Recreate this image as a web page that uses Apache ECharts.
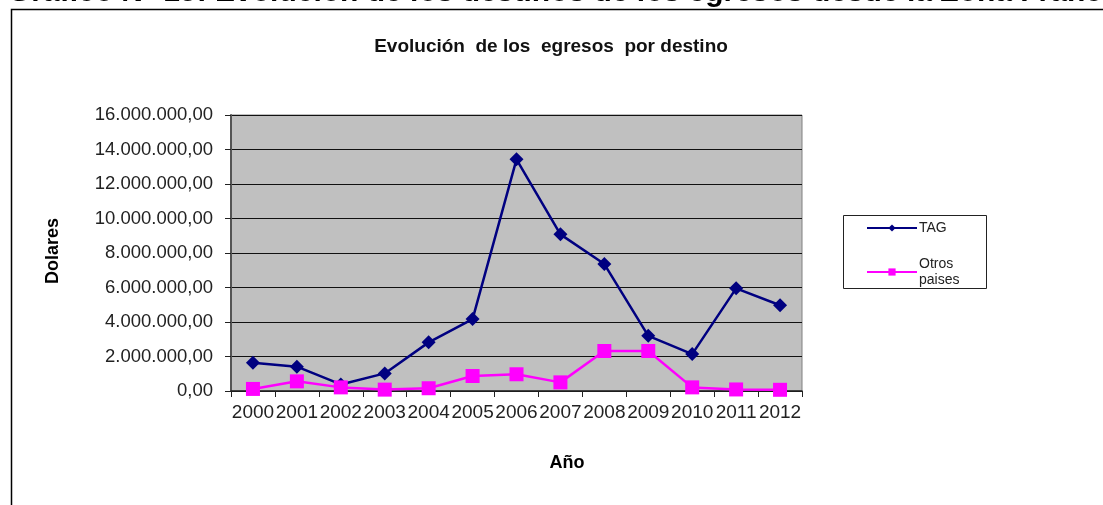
<!DOCTYPE html>
<html>
<head>
<meta charset="utf-8">
<script src="https://cdn.jsdelivr.net/npm/echarts@6/dist/echarts.min.js"></script>
<style>
  html, body { margin: 0; padding: 0; background: #fff; }
  #chart { width: 1103px; height: 505px; }
</style>
</head>
<body>
<div id="chart"></div>
<script>
// datos
var years = ['2000', '2001', '2002', '2003', '2004', '2005', '2006', '2007', '2008', '2009', '2010', '2011', '2012'];
var tag = [1640000, 1410000, 380000, 1020000, 2820000, 4170000, 13430000, 9080000, 7360000, 3200000, 2140000, 5950000, 4970000];
var otros = [120000, 560000, 210000, 80000, 160000, 870000, 970000, 500000, 2320000, 2320000, 210000, 90000, 70000];

function fmt(v) {
  var s = Math.round(v).toString().replace(/\B(?=(\d{3})+(?!\d))/g, '.');
  return s + ',00';
}

var font = '"Liberation Sans", Arial, sans-serif';
var myChart = echarts.init(document.getElementById('chart'));

var option = {
  animation: false,
  textStyle: { fontFamily: font },
  title: {
    text: 'Evolución  de los  egresos  por destino',
    left: 546,
    textAlign: 'center',
    top: 32,
    textStyle: { fontSize: 19, fontWeight: 'bold', color: '#111' }
  },
  graphic: [
    {
      type: 'text',
      x: 8,
      y: -7,
      style: {
        text: 'Gráfico N° 19: Evolución de los destinos de los egresos desde la Zona Franca',
        font: 'bold 30px ' + font,
        fill: '#000',
        verticalAlign: 'middle'
      }
    },
    {
      type: 'polyline',
      shape: { points: [[11.5, 505], [11.5, 9.5], [1103, 9.5]] },
      style: { stroke: '#000', lineWidth: 1.5, fill: null }
    },
    {
      type: 'rect',
      shape: { x: 843.5, y: 215.5, width: 143, height: 73 },
      style: { stroke: '#222', lineWidth: 1, fill: '#fff' }
    },
    {
      type: 'text',
      x: 53,
      y: 251,
      rotation: Math.PI / 2,
      style: {
        text: 'Dolares',
        font: 'bold 18px ' + font,
        fill: '#000',
        align: 'center',
        verticalAlign: 'middle'
      }
    },
    {
      type: 'text',
      x: 567,
      y: 463,
      style: {
        text: 'Año',
        font: 'bold 18px ' + font,
        fill: '#000',
        align: 'center',
        verticalAlign: 'middle'
      }
    }
  ],
  legend: {
    orient: 'vertical',
    left: 861,
    top: 215,
    itemWidth: 50,
    itemHeight: 9,
    itemGap: 20,
    textStyle: { fontSize: 14, color: '#222', lineHeight: 16, padding: [0, 0, 0, -3] },
    data: ['TAG', 'Otros\npaises']
  },
  grid: { left: 231, right: 301, top: 115, bottom: 114, show: true, backgroundColor: '#c0c0c0', borderColor: '#808080', borderWidth: 1 },
  xAxis: {
    type: 'category',
    data: years,
    boundaryGap: true,
    axisLine: { lineStyle: { color: '#222', width: 1.5 } },
    axisTick: { show: true, alignWithLabel: false, length: 6, lineStyle: { color: '#222' } },
    axisLabel: { color: '#222', fontSize: 19, margin: 12, interval: 0 }
  },
  yAxis: {
    type: 'value',
    min: 0,
    max: 16000000,
    interval: 2000000,
    axisLine: { show: true, lineStyle: { color: '#555', width: 2 } },
    axisTick: { show: true, length: 6, lineStyle: { color: '#222' } },
    axisLabel: { color: '#222', fontSize: 18.5, margin: 18, formatter: fmt },
    splitLine: { lineStyle: { color: '#111', width: 1.2 } }
  },
  series: [
    {
      name: 'TAG',
      type: 'line',
      data: tag,
      symbol: 'diamond',
      symbolSize: 14,
      lineStyle: { color: '#000080', width: 2.5 },
      itemStyle: { color: '#000080' },
      z: 3
    },
    {
      name: 'Otros\npaises',
      type: 'line',
      data: otros,
      symbol: 'rect',
      symbolSize: 14,
      lineStyle: { color: '#ff00ff', width: 2.5 },
      itemStyle: { color: '#ff00ff' },
      z: 4
    }
  ]
};

myChart.setOption(option);
</script>
</body>
</html>
